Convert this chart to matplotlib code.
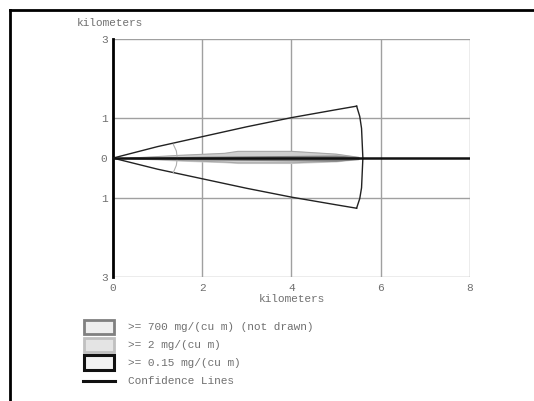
import numpy as np
import matplotlib.pyplot as plt
from matplotlib.lines import Line2D
from matplotlib.patches import Rectangle

plt.rcParams['font.family'] = ['Liberation Mono', 'DejaVu Sans Mono']

# confidence lines (upper side, mirrored for lower) and the closing arc
conf_x = [0.0, 1.0, 2.0, 3.0, 4.0, 5.0, 5.46]
conf_y = [0.0, 0.29, 0.54, 0.79, 1.02, 1.22, 1.31]
arc_x = [5.46, 5.53, 5.57, 5.60, 5.57, 5.53, 5.46]
arc_y = [1.31, 1.05, 0.75, 0.0, -0.75, -1.02, -1.26]

# small arc near the source
small_arc_x = [1.35, 1.42, 1.44, 1.42, 1.35]
small_arc_y = [0.35, 0.18, 0.0, -0.18, -0.37]

# >= 2 mg/(cu m) zone
zone2_x = [0.4, 1.5, 2.5, 2.8, 4.0, 5.0, 5.5]
zone2_top = [0.0, 0.07, 0.12, 0.17, 0.17, 0.1, 0.02]
zone2_bot = [0.0, -0.06, -0.1, -0.12, -0.12, -0.08, -0.02]

# darker inner band
inner_x = [0.2, 2.0, 4.0, 5.0, 5.5]
inner_half = [0.0, 0.03, 0.05, 0.06, 0.02]

xticks = [0, 2, 4, 6, 8]
yticks = [-3, -1, 0, 1, 3]
ytick_labels = ['3', '1', '0', '1', '3']

legend_labels = ['>= 700 mg/(cu m) (not drawn)', '>= 2 mg/(cu m)',
                 '>= 0.15 mg/(cu m)', 'Confidence Lines']

fig = plt.figure(figsize=(5.34, 4.01), dpi=100)
ax = fig.add_axes([0.2116, 0.309, 0.6685, 0.5935])

txt = '#707070'
grid = '#a0a0a0'

ax.set_xlim(0, 8)
ax.set_ylim(-3, 3)
ax.set_xticks(xticks)
ax.set_yticks(yticks)
ax.set_yticklabels(ytick_labels)
ax.tick_params(length=0, labelsize=8, colors=txt, pad=4)
for t in [1, 3, -1, -3]:
    ax.axhline(t, color=grid, lw=1, zorder=1)
for t in [2, 4, 6, 8]:
    ax.axvline(t, color=grid, lw=1, zorder=1)
for s in ['top', 'right', 'bottom']:
    ax.spines[s].set_visible(False)
ax.spines['left'].set_color('black')
ax.spines['left'].set_linewidth(2)

zx = np.array(zone2_x)
ax.fill_between(zx, zone2_bot, zone2_top, color='#cfcfcf', zorder=2)
ax.plot(zx, zone2_top, color='#a8a8a8', lw=0.8, zorder=2)
ax.plot(zx, zone2_bot, color='#a8a8a8', lw=0.8, zorder=2)
ix = np.array(inner_x)
ih = np.array(inner_half)
ax.fill_between(ix, -ih, ih, color='#808080', zorder=3)

cx = np.array(conf_x)
cy = np.array(conf_y)
ax.plot(cx, cy, color='#222222', lw=1, zorder=4)
ax.plot(cx, -cy * 0.965, color='#222222', lw=1, zorder=4)
ax.plot(arc_x, arc_y, color='#222222', lw=1, zorder=4)
ax.plot(small_arc_x, small_arc_y, color='#b0b0b0', lw=0.8, zorder=4)

ax.plot([0, 8], [0, 0], color='#111111', lw=1.8, zorder=5)

ax.set_xlabel('kilometers', fontsize=8, color=txt, labelpad=1)
fig.text(0.205, 0.935, 'kilometers', fontsize=8, color=txt, ha='center')

# legend
rows = [0.185, 0.139, 0.096, 0.049]
styles = [('#eeeeee', '#808080', 2), ('#e4e4e4', '#c0c0c0', 2),
          ('#f2f2f2', '#111111', 2.2)]
for i, lab in enumerate(legend_labels):
    y = rows[i]
    if i < 3:
        fc, ec, lw = styles[i]
        fig.add_artist(Rectangle((0.158, y - 0.018), 0.055, 0.036, transform=fig.transFigure,
                                 facecolor=fc, edgecolor=ec, lw=lw))
    else:
        fig.add_artist(Line2D([0.156, 0.215], [y, y], color='#111111', lw=2.2))
    fig.text(0.24, y, lab, fontsize=8, color=txt, va='center')

# frame
fig.add_artist(Line2D([0.019, 1.0], [0.975, 0.975], color='black', lw=2))
fig.add_artist(Line2D([0.019, 0.019], [0.0, 0.975], color='black', lw=2))

fig.savefig('out.png', dpi=100)
